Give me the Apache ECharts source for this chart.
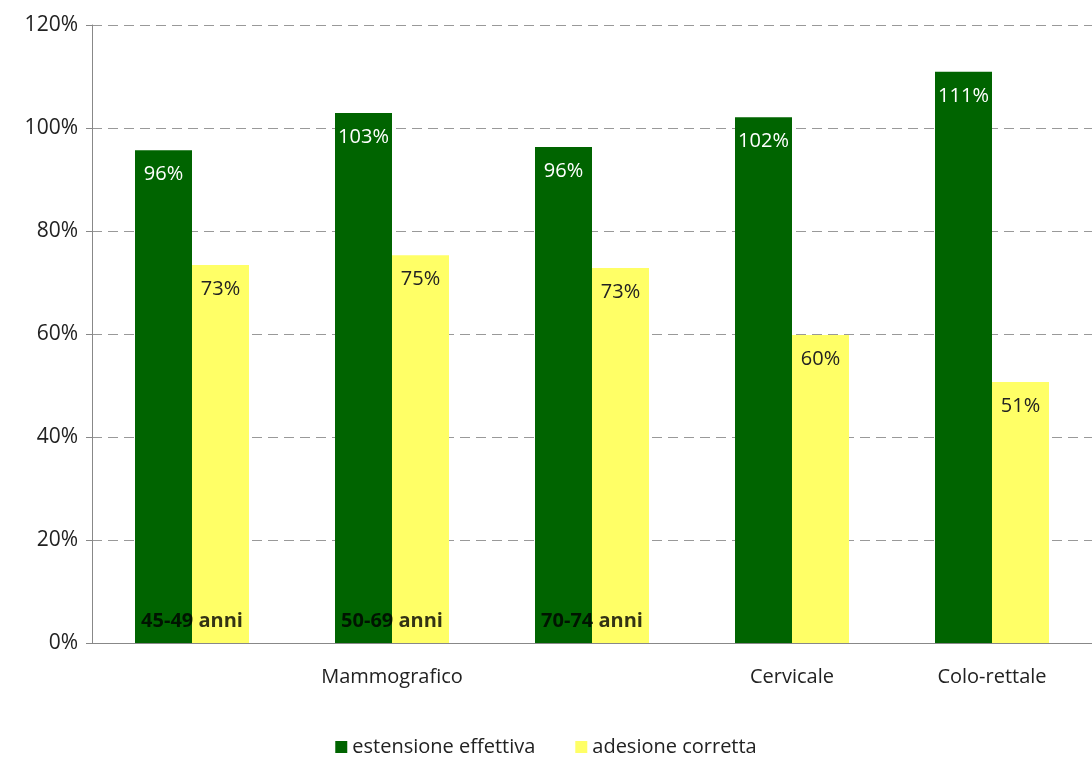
<!DOCTYPE html>
<html><head><meta charset="utf-8">
<script src="https://cdn.jsdelivr.net/npm/echarts@6/dist/echarts.min.js"></script>
<style>html,body{margin:0;background:#fff}#c{width:1092px;height:762px}</style>
</head><body><div id="c"></div>
<script>
var categories = ['', 'Mammografico', '', 'Cervicale', 'Colo-rettale'];
var estensione = [95.7, 102.9, 96.3, 102.1, 110.9];
var adesione = [73.4, 75.3, 72.8, 59.8, 50.7];
var estLabels = ['96%', '103%', '96%', '102%', '111%'];
var adeLabels = ['73%', '75%', '73%', '60%', '51%'];
var ageLabels = ['45-49 anni', '50-69 anni', '70-74 anni'];

var chart = echarts.init(document.getElementById('c'));
var font = 'Open Sans';
chart.setOption({
  animation: false,
  textStyle: { fontFamily: font },
  grid: { left: 92, right: -10, top: 25, bottom: 119 },
  legend: {
    bottom: 0, itemWidth: 12, itemHeight: 12, itemGap: 40,
    icon: 'rect',
    textStyle: { fontSize: 20, color: '#222', fontFamily: font },
    data: ['estensione effettiva', 'adesione corretta']
  },
  xAxis: {
    type: 'category', data: categories,
    axisLine: { lineStyle: { color: '#888' } },
    axisTick: { length: 8, lineStyle: { color: '#888' } },
    axisLabel: { fontSize: 20, color: '#222', margin: 24, interval: 0 }
  },
  yAxis: {
    type: 'value', min: 0, max: 120, interval: 20,
    axisLine: { show: true, lineStyle: { color: '#888' } },
    axisTick: { show: true, length: 6, lineStyle: { color: '#888' } },
    axisLabel: { fontSize: 21, color: '#222', margin: 14, formatter: '{value}%' },
    splitLine: { lineStyle: { color: '#999', type: [10, 6] } }
  },
  series: [
    {
      name: 'estensione effettiva', type: 'bar', barGap: 0, barCategoryGap: '43%',
      itemStyle: { color: '#006400' },
      data: estensione,
      label: { show: true, position: 'insideTop', distance: 14, color: '#fff', fontSize: 20,
        formatter: function (p) { return estLabels[p.dataIndex]; } }
    },
    {
      name: 'adesione corretta', type: 'bar',
      itemStyle: { color: '#FFFF66' },
      data: adesione,
      label: { show: true, position: 'insideTop', distance: 14, color: '#222', fontSize: 20,
        formatter: function (p) { return adeLabels[p.dataIndex]; } }
    },
    {
      type: 'scatter', symbolSize: 0, silent: true,
      data: ageLabels.map(function (t, i) { return [i, 0]; }),
      label: { show: true, position: 'top', distance: 12, color: '#000', fontSize: 20, fontWeight: 'bold',
        formatter: function (p) { return ageLabels[p.dataIndex]; } }
    }
  ]
});
</script></body></html>
